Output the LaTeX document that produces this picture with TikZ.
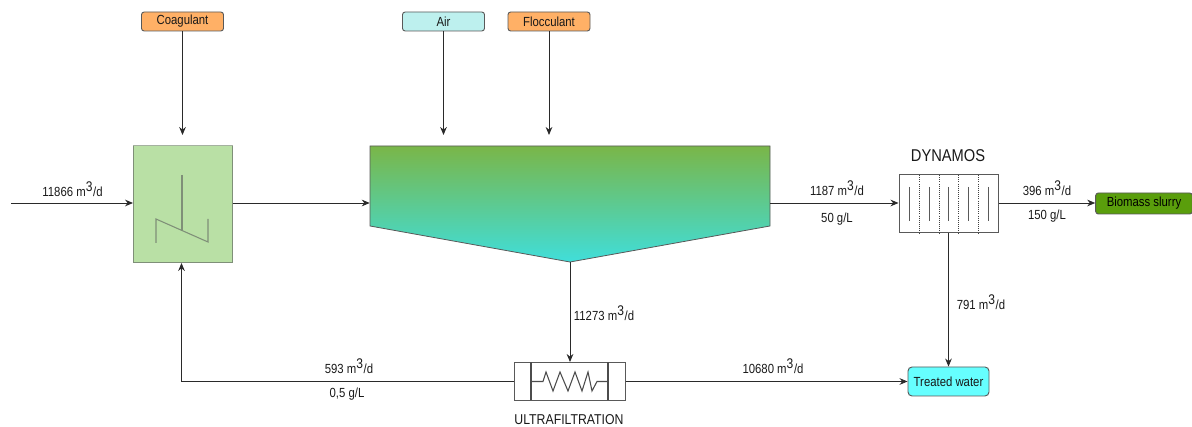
\documentclass[tikz,border=0pt]{standalone}
\usepackage{fontspec}
\setmainfont[FakeStretch=0.86]{Liberation Sans}
\usetikzlibrary{arrows.meta,shadings}
\definecolor{linec}{HTML}{2A2A2A}
\definecolor{orangefill}{HTML}{FFB066}
\definecolor{airfill}{HTML}{BDF0EE}
\definecolor{mixfill}{HTML}{B9E0A5}
\definecolor{mixline}{HTML}{7F8F78}
\definecolor{slurry}{HTML}{5A9E0C}
\definecolor{treated}{HTML}{66FFFF}
\tikzset{
 x=0.75pt,y=-0.75pt,
 every node/.style={font=\fontsize{9.9}{12}\selectfont,text=black!90},
 lbl/.style={inner sep=0pt},
 boxn/.style={draw=black!65,line width=0.7pt,rounded corners=2pt,inner sep=0pt,minimum height=14.25pt},
 feed/.style={boxn,minimum width=61.5pt},
 flow/.style={draw=linec,line width=0.65pt,-{Stealth[length=6pt,width=5pt]}},
 unit/.style={draw=black!65,line width=0.75pt,inner sep=0pt},
}
\newcommand{\cubic}[1]{#1~m\textsuperscript{\fontsize{10.5}{11}\selectfont 3}/d}
\begin{document}
\begin{tikzpicture}
\useasboundingbox (0,0) rectangle (1192,427);
% feeds
\node[feed,fill=orangefill] (coag) at (182.5,21.5) {Coagulant};
\node[feed,fill=airfill] (air) at (443.5,21.5) {Air};
\node[feed,fill=orangefill] (floc) at (549,21.5) {Flocculant};
\coordinate (coagend) at (182.5,135);
\coordinate (airend) at (443.5,135);
\coordinate (flocend) at (549,135);
\coordinate (inlet) at (11,203);
% mixer
\node[fill=mixfill,inner sep=0pt,minimum width=74.25pt,minimum height=87pt] (mix) at (182.8,204) {};
\draw[draw=mixline!70,line width=0.5pt] (mix.north west) -- (mix.north east);
\draw[draw=mixline,line width=0.75pt] (mix.north west) -- (mix.south west) -- (mix.south east) -- (mix.north east);
\draw[draw=mixline,line width=0.8pt,line join=miter] (156,243) -- (156,219) -- (208,242) -- (208,219);
\draw[draw=mixline,line width=0.8pt] (182,175) -- (182,231);
% settling tank
\shade[top color={rgb,255:red,122;green,182;blue,72},bottom color={rgb,255:red,64;green,222;blue,218}] (370,146) -- (770,146) -- (770,226) -- (570,262) -- (370,226) -- cycle;
\draw[draw=black!65,line width=0.6pt] (370,146) -- (770,146) -- (770,226) -- (570,262) -- (370,226) -- cycle;
\node[inner sep=0pt,minimum width=300pt,minimum height=87pt] (tank) at (570,204) {};
% dynamos
\node[unit,fill=white,minimum width=74.25pt,minimum height=43.5pt] (dyn) at (948.5,204) {};
\foreach \x in {919.5,939,958.5,978}
  \draw[black!75,line width=0.6pt,densely dotted] (\x,175) -- (\x,233);
\foreach \x in {909.5,929.5,948.5,968.5,988.5}
  \draw[black!65,line width=0.8pt] (\x,187) -- (\x,221);
% ultrafiltration
\node[unit,fill=white,minimum width=83.25pt,minimum height=28.5pt] (uf) at (569.5,381.5) {};
\draw[black!70,line width=0.8pt] (531,362.5) -- (531,400.5) (608,362.5) -- (608,400.5);
\draw[black!70,line width=0.8pt,line join=miter] (531,381.5) -- (543,381.5) -- (546,372) -- (553,391) -- (560,372) -- (568,391) -- (575,372) -- (582,391) -- (588,372) -- (592,391) -- (597,381.5) -- (608,381.5);
% products
\node[boxn,fill=slurry,minimum width=72.5pt,minimum height=15.75pt,text=black] (bio) at (1144,203.5) {Biomass slurry};
\node[boxn,fill=treated,rounded corners=3pt,minimum width=60.75pt,minimum height=21.75pt] (tw) at (948.5,381.5) {\fontsize{9.9}{12}\selectfont Treated water};
% connectors
\draw[flow] (coag.south) -- (coagend);
\draw[flow] (air.south) -- (airend);
\draw[flow] (floc.south) -- (flocend);
\draw[flow] (inlet) -- (inlet -| mix.west);
\draw[flow] (mix.east |- inlet) -- (inlet -| tank.west);
\draw[flow] (inlet -| tank.east) -- (inlet -| dyn.west);
\draw[flow] (inlet -| dyn.east) -- (inlet -| bio.west);
\draw[flow] (tank.south) -- (tank.south |- uf.north);
\draw[flow] (dyn.south) -- (dyn.south |- tw.north);
\draw[flow] (uf.east) -- (tw.west);
\draw[flow] (uf.west) -- (181.5,381.5) -- (181.5,263);
% labels
\node[lbl] (l1) at (72.5,189) {\cubic{11866}};
\node[lbl] (l2) at (837,188) {\cubic{1187}};
\node[lbl] (l3) at (837,219) {50 g/L};
\node[lbl] (l4) at (1047,188) {\cubic{396}};
\node[lbl] (l5) at (1047,216) {150 g/L};
\node[lbl,font=\fontsize{12.8}{15}\selectfont] (l6) at (948,156) {DYNAMOS};
\node[lbl] (l7) at (981,302) {\cubic{791}};
\node[lbl] (l8) at (604,313) {\cubic{11273}};
\node[lbl] (l9) at (349,366) {\cubic{593}};
\node[lbl] (l10) at (347,394) {0,5 g/L};
\node[lbl] (l11) at (773,366) {\cubic{10680}};
\node[lbl,font=\fontsize{10.7}{13}\selectfont] (l12) at (569,420) {ULTRAFILTRATION};
\end{tikzpicture}
\end{document}
